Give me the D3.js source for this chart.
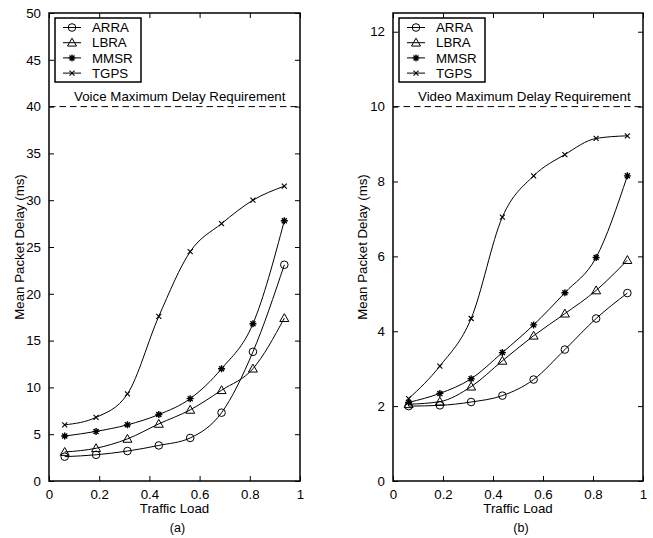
<!DOCTYPE html>
<html lang="en">
<head>
<meta charset="utf-8">
<title>Mean Packet Delay</title>
<script src="https://cdn.jsdelivr.net/npm/d3@7"></script>
<style>
  html, body { margin: 0; padding: 0; background: #fff; }
  svg { font-family: "Liberation Sans", Arial, Helvetica, sans-serif; }
</style>
</head>
<body>
<script>
// traffic load values (same for both panels)
const loads = [0.0625, 0.1875, 0.3125, 0.4375, 0.5625, 0.6875, 0.8125, 0.9375];
const seriesNames = ["ARRA", "LBRA", "MMSR", "TGPS"];
const markerKinds = ["circle", "triangle", "star", "cross"];

// (a) voice delay (ms)
const voiceARRA = [2.6, 2.8, 3.2, 3.8, 4.6, 7.3, 13.8, 23.1];
const voiceLBRA = [3.1, 3.5, 4.5, 6.1, 7.6, 9.7, 12.0, 17.4];
const voiceMMSR = [4.8, 5.3, 6.0, 7.1, 8.8, 12.0, 16.8, 27.8];
const voiceTGPS = [6.0, 6.8, 9.3, 17.6, 24.5, 27.5, 30.0, 31.5];

// (b) video delay (ms)
const videoARRA = [2.0, 2.02, 2.11, 2.28, 2.71, 3.51, 4.34, 5.02];
const videoLBRA = [2.05, 2.12, 2.52, 3.21, 3.88, 4.47, 5.09, 5.9];
const videoMMSR = [2.1, 2.34, 2.73, 3.43, 4.17, 5.03, 5.97, 8.15];
const videoTGPS = [2.2, 3.07, 4.34, 7.05, 8.15, 8.72, 9.15, 9.22];

const xTicks = [0, 0.2, 0.4, 0.6, 0.8, 1];
const voiceTicks = [0, 5, 10, 15, 20, 25, 30, 35, 40, 45, 50];
const videoTicks = [0, 2, 4, 6, 8, 10, 12];

const w = 653, h = 538;
const fs = 13.3;
const svg = d3.select("body").append("svg").attr("width", w).attr("height", h);

function marker(g, kind, x, y) {
  if (kind === "circle") {
    g.append("circle").attr("cx", x).attr("cy", y).attr("r", 3.8)
      .attr("fill", "none").attr("stroke", "#000").attr("stroke-width", 1);
  } else if (kind === "triangle") {
    const s = 4.5;
    g.append("path")
      .attr("d", `M${x},${y - s}L${x + s},${y + s * 0.75}L${x - s},${y + s * 0.75}Z`)
      .attr("fill", "none").attr("stroke", "#000").attr("stroke-width", 1);
  } else if (kind === "star") {
    const s = 3.5, d = 2.5;
    g.append("path")
      .attr("d", `M${x - s},${y}L${x + s},${y}M${x},${y - s}L${x},${y + s}` +
                 `M${x - d},${y - d}L${x + d},${y + d}M${x - d},${y + d}L${x + d},${y - d}`)
      .attr("stroke", "#000").attr("stroke-width", 1.4);
  } else {
    const s = 2.5;
    g.append("path")
      .attr("d", `M${x - s},${y - s}L${x + s},${y + s}M${x - s},${y + s}L${x + s},${y - s}`)
      .attr("stroke", "#000").attr("stroke-width", 1.1);
  }
}

function panel(opt) {
  const x = d3.scaleLinear().domain([0, 1]).range([opt.left, opt.right]);
  const y = d3.scaleLinear().domain([0, opt.yMax]).range([481, 13]);
  const g = svg.append("g");

  // ticks on all four sides, pointing inward
  const tl = 5;
  g.append("g").attr("transform", `translate(0,${y(0)})`)
    .call(d3.axisBottom(x).tickValues(xTicks).tickSizeInner(-tl).tickSizeOuter(0).tickPadding(9).tickFormat(d3.format("")));
  g.append("g").attr("transform", `translate(0,${y(opt.yMax)})`)
    .call(d3.axisTop(x).tickValues(xTicks).tickSizeInner(-tl).tickSizeOuter(0).tickFormat(""));
  g.append("g").attr("transform", `translate(${x(0)},0)`)
    .call(d3.axisLeft(y).tickValues(opt.yTicks).tickSizeInner(-tl).tickSizeOuter(0).tickPadding(8));
  g.append("g").attr("transform", `translate(${x(1)},0)`)
    .call(d3.axisRight(y).tickValues(opt.yTicks).tickSizeInner(-tl).tickSizeOuter(0).tickFormat(""));
  g.selectAll(".domain").remove();
  g.selectAll(".tick text").attr("font-size", fs).attr("fill", "#000")
    .attr("font-family", "Liberation Sans, Arial, sans-serif");
  g.selectAll(".tick line").attr("stroke", "#000");

  g.append("rect").attr("x", x(0)).attr("y", y(opt.yMax))
    .attr("width", x(1) - x(0)).attr("height", y(0) - y(opt.yMax))
    .attr("fill", "none").attr("stroke", "#000").attr("stroke-width", 1.5);

  // delay requirement
  g.append("line").attr("x1", x(0)).attr("x2", x(1))
    .attr("y1", y(opt.limit)).attr("y2", y(opt.limit))
    .attr("stroke", "#000").attr("stroke-width", 1).attr("stroke-dasharray", "6.5,4");
  g.append("text").attr("x", x(0.1)).attr("y", y(opt.limit) - 6)
    .attr("font-size", fs).text(opt.limitText);

  const line = d3.line().x((d, i) => x(loads[i])).y(d => y(d)).curve(d3.curveMonotoneX);
  opt.series.forEach((vals, k) => {
    g.append("path").attr("d", line(vals))
      .attr("fill", "none").attr("stroke", "#000").attr("stroke-width", 1);
    vals.forEach((v, i) => marker(g, markerKinds[k], x(loads[i]), y(v)));
  });

  // legend
  const lx = x(0) + 6, ly = 18;
  g.append("rect").attr("x", lx).attr("y", ly).attr("width", 86).attr("height", 64)
    .attr("fill", "#fff").attr("stroke", "#000").attr("stroke-width", 1.5);
  seriesNames.forEach((name, k) => {
    const yy = ly + 9.5 + k * 15.2;
    g.append("line").attr("x1", lx + 8).attr("x2", lx + 26).attr("y1", yy).attr("y2", yy)
      .attr("stroke", "#000").attr("stroke-width", 1);
    marker(g, markerKinds[k], lx + 17, yy);
    g.append("text").attr("x", lx + 37).attr("y", yy + 4.7).attr("font-size", fs).text(name);
  });

  // labels
  const cx = (x(0) + x(1)) / 2;
  g.append("text").attr("x", cx).attr("y", 513).attr("text-anchor", "middle")
    .attr("font-size", fs).text("Traffic Load");
  g.append("text").attr("x", cx + 3).attr("y", 532).attr("text-anchor", "middle")
    .attr("font-size", 12.5).text(opt.tag);
  g.append("text").attr("transform", `translate(${opt.labelX},${(y(0) + y(opt.yMax)) / 2}) rotate(-90)`)
    .attr("text-anchor", "middle").attr("font-size", fs).text("Mean Packet Delay (ms)");
}

panel({
  left: 49, right: 300, yMax: 50, yTicks: voiceTicks, limit: 40,
  limitText: "Voice Maximum Delay Requirement",
  series: [voiceARRA, voiceLBRA, voiceMMSR, voiceTGPS], tag: "(a)", labelX: 24
});
panel({
  left: 393, right: 643, yMax: 12.5, yTicks: videoTicks, limit: 10,
  limitText: "Video Maximum Delay Requirement",
  series: [videoARRA, videoLBRA, videoMMSR, videoTGPS], tag: "(b)", labelX: 367
});
</script>
</body>
</html>
